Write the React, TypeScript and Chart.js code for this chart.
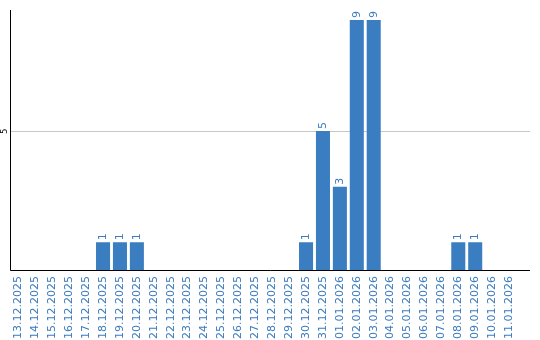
import React, { useEffect, useRef } from "react";
import { Chart, registerables } from "chart.js";

Chart.register(...registerables);

const categories = [
  "13.12.2025", "14.12.2025", "15.12.2025", "16.12.2025", "17.12.2025",
  "18.12.2025", "19.12.2025", "20.12.2025", "21.12.2025", "22.12.2025",
  "23.12.2025", "24.12.2025", "25.12.2025", "26.12.2025", "27.12.2025",
  "28.12.2025", "29.12.2025", "30.12.2025", "31.12.2025", "01.01.2026",
  "02.01.2026", "03.01.2026", "04.01.2026", "05.01.2026", "06.01.2026",
  "07.01.2026", "08.01.2026", "09.01.2026", "10.01.2026", "11.01.2026",
];
const values = [
  0, 0, 0, 0, 0,
  1, 1, 1, 0, 0,
  0, 0, 0, 0, 0,
  0, 0, 1, 5, 3,
  9, 9, 0, 0, 0,
  0, 1, 1, 0, 0,
];
const yTicks = [5];

const BLUE = "#3b7dc1";
const TEXT_BLUE = "#3a7bbf";
const FONT = "'DejaVu Sans', Verdana, sans-serif";
const AXIS_RIGHT = 530;

const overlay = {
  id: "overlay",
  beforeDatasetsDraw(chart: any) {
    const ctx = chart.ctx;
    const area = chart.chartArea;
    const ys = chart.scales.y;
    ctx.save();
    ctx.strokeStyle = "#c8c8c8";
    ctx.lineWidth = 1;
    yTicks.forEach((t) => {
      const y = Math.round(ys.getPixelForValue(t)) + 0.5;
      ctx.beginPath();
      ctx.moveTo(area.left, y);
      ctx.lineTo(AXIS_RIGHT, y);
      ctx.stroke();
    });
    ctx.restore();
  },
  afterDatasetsDraw(chart: any) {
    const ctx = chart.ctx;
    const area = chart.chartArea;
    const meta = chart.getDatasetMeta(0);
    ctx.save();
    ctx.fillStyle = TEXT_BLUE;
    ctx.font = `11px ${FONT}`;
    ctx.textAlign = "left";
    ctx.textBaseline = "middle";
    meta.data.forEach((bar: any, i: number) => {
      const v = values[i];
      if (!v) return;
      ctx.save();
      ctx.translate(bar.x, bar.y - 2);
      ctx.rotate(-Math.PI / 2);
      ctx.fillText(String(v), 0, 0);
      ctx.restore();
    });
    const ys = chart.scales.y;
    ctx.fillStyle = "#000";
    ctx.font = `8px ${FONT}`;
    ctx.textAlign = "center";
    ctx.textBaseline = "middle";
    yTicks.forEach((t) => {
      ctx.save();
      ctx.translate(area.left - 5, ys.getPixelForValue(t));
      ctx.rotate(-Math.PI / 2);
      ctx.fillText(String(t), 0, 0);
      ctx.restore();
    });
    ctx.strokeStyle = "#000";
    ctx.lineWidth = 1;
    ctx.beginPath();
    ctx.moveTo(Math.round(area.left) + 0.5, area.top);
    ctx.lineTo(Math.round(area.left) + 0.5, Math.round(area.bottom) + 0.5);
    ctx.lineTo(AXIS_RIGHT, Math.round(area.bottom) + 0.5);
    ctx.stroke();
    ctx.restore();
  },
};

export default function App() {
  const ref = useRef<HTMLCanvasElement>(null);
  useEffect(() => {
    if (!ref.current) return;
    const chart = new Chart(ref.current, {
      type: "bar",
      data: {
        labels: categories,
        datasets: [
          {
            data: values,
            backgroundColor: BLUE,
            barPercentage: 0.83,
            categoryPercentage: 1,
          },
        ],
      },
      options: {
        animation: false,
        responsive: false,
        maintainAspectRatio: false,
        layout: { padding: { left: 10, top: 10, right: 22.5, bottom: 0 } },
        plugins: { legend: { display: false }, tooltip: { enabled: false } },
        scales: {
          x: {
            grid: { display: false, drawTicks: false },
            border: { display: false },
            ticks: {
              color: TEXT_BLUE,
              font: { size: 11, family: FONT },
              minRotation: 90,
              maxRotation: 90,
              autoSkip: false,
              padding: 6,
            },
            afterFit(scale: any) {
              scale.height = 70;
            },
          },
          y: {
            min: 0,
            max: 9.36,
            ticks: { display: false, stepSize: 5 },
            border: { display: false },
            grid: { display: false, drawTicks: false },
            afterFit(scale: any) {
              scale.width = 0;
            },
          },
        },
      },
      plugins: [overlay],
    });
    return () => chart.destroy();
  }, []);
  return (
    <div style={{ position: "fixed", left: 0, top: 0, width: 540, height: 340, background: "#fff" }}>
      <canvas ref={ref} width={540} height={340} style={{ width: 540, height: 340 }} />
    </div>
  );
}
